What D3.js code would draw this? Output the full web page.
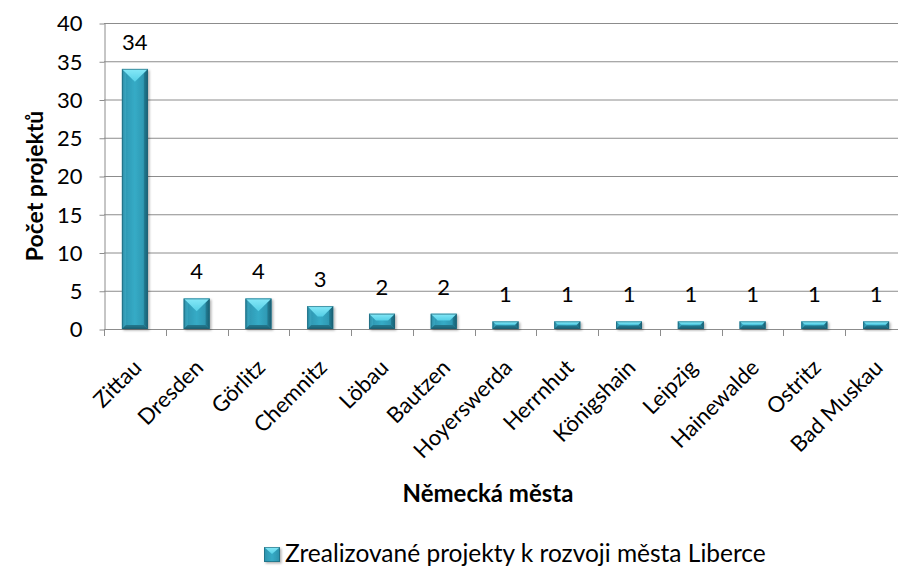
<!DOCTYPE html>
<html>
<head>
<meta charset="utf-8">
<script src="https://cdn.jsdelivr.net/npm/d3@7"></script>
<style>
  html, body { margin: 0; padding: 0; background: #fff; }
  svg { display: block; font-family: Lato, "Open Sans", sans-serif; }
</style>
</head>
<body>
<svg id="chart" width="898" height="566"></svg>
<script>
// Cities and number of projects
const cities = ["Zittau", "Dresden", "Görlitz", "Chemnitz", "Löbau", "Bautzen", "Hoyerswerda",
                "Herrnhut", "Königshain", "Leipzig", "Hainewalde", "Ostritz", "Bad Muskau"];
const projects = [34, 4, 4, 3, 2, 2, 1, 1, 1, 1, 1, 1, 1];
const yTicks = [0, 5, 10, 15, 20, 25, 30, 35, 40];
const seriesName = "Zrealizované projekty k rozvoji města Liberce";
const xTitle = "Německá města";
const yTitle = "Počet projektů";

const svg = d3.select("#chart");
const plot = { left: 104, right: 907, top: 23, bottom: 329 };

const x = d3.scaleBand().domain(cities).range([plot.left, plot.right]).paddingInner(0.58).paddingOuter(0.29);
const y = d3.scaleLinear().domain([0, 40]).range([plot.bottom, plot.top]);
const step = x.step();

// gradients for the bevelled bar faces
const defs = svg.append("defs");
function grad(id, vertical, stops) {
  const g = defs.append("linearGradient").attr("id", id)
    .attr("x1", 0).attr("y1", 0).attr("x2", vertical ? 0 : 1).attr("y2", vertical ? 1 : 0);
  stops.forEach(([o, c]) => g.append("stop").attr("offset", o).attr("stop-color", c));
}
grad("face", false, [[0, "#2b92ad"], [0.5, "#36abc6"], [1, "#2b90aa"]]);
grad("topFacet", true, [[0, "#86e9f8"], [1, "#55cfe6"]]);
grad("leftFacet", false, [[0, "#2a8ba4"], [1, "#3aa7c1"]]);
grad("rightFacet", false, [[0, "#237c93"], [1, "#1a6276"]]);
grad("bottomFacet", true, [[0, "#23788e"], [1, "#1c6073"]]);
const shadow = defs.append("filter").attr("id", "shadow").attr("x", "-20%").attr("y", "-20%").attr("width", "150%").attr("height", "150%");
shadow.append("feDropShadow").attr("dx", 1.5).attr("dy", 1.5).attr("stdDeviation", 1.2).attr("flood-color", "#000").attr("flood-opacity", 0.3);

// horizontal gridlines
svg.append("g").selectAll("line").data(yTicks).join("line")
  .attr("x1", plot.left).attr("x2", plot.right)
  .attr("y1", d => y(d) + 0.5).attr("y2", d => y(d) + 0.5)
  .attr("stroke", "#8c8c8c").attr("stroke-width", 1);

// y axis
const yAxis = svg.append("g").attr("transform", `translate(${plot.left + 0.5},0)`)
  .call(d3.axisLeft(y).tickValues(yTicks).tickSize(5).tickPadding(17).tickSizeOuter(0));
yAxis.select(".domain").attr("stroke", "#8c8c8c");
yAxis.selectAll(".tick line").attr("stroke", "#8c8c8c").attr("transform", "translate(0,0.5)");
yAxis.selectAll(".tick text").attr("font-family", "Lato, sans-serif").attr("font-size", 22).attr("fill", "#000")
  .attr("dy", "0.36em");

// x axis: ticks at the category boundaries
const boundaries = d3.range(cities.length + 1).map(i => plot.left + i * step);
svg.append("line").attr("x1", plot.left).attr("x2", plot.right)
  .attr("y1", plot.bottom + 0.5).attr("y2", plot.bottom + 0.5).attr("stroke", "#8c8c8c");
svg.append("g").selectAll("line").data(boundaries).join("line")
  .attr("x1", d => Math.round(d) + 0.5).attr("x2", d => Math.round(d) + 0.5)
  .attr("y1", plot.bottom).attr("y2", plot.bottom + 7).attr("stroke", "#8c8c8c");

svg.append("g").selectAll("text").data(cities).join("text")
  .attr("transform", d => `translate(${x(d) + x.bandwidth() / 2 + 8},${plot.bottom + 40}) rotate(-45)`)
  .attr("text-anchor", "end")
  .attr("font-size", 22).attr("fill", "#000")
  .text(d => d);

// bars with bevelled facets
const data = cities.map((c, i) => ({ c, v: projects[i] }));
const bars = svg.append("g").selectAll("g").data(data).join("g")
  .attr("filter", "url(#shadow)");
bars.each(function (d) {
  const g = d3.select(this);
  const w = x.bandwidth();
  const x0 = x(d.c), x1 = x0 + w;
  const y0 = y(d.v), y1 = y(0);
  const h = y1 - y0;
  const b = Math.min(w / 2, h * 0.45);
  const s = Math.min(4, b);
  g.append("rect").attr("x", x0).attr("y", y0).attr("width", w).attr("height", h).attr("fill", "url(#face)");
  g.append("polygon").attr("points", [[x0, y0], [x0 + s, y0 + s], [x0 + s, y1 - s], [x0, y1]].join(" ")).attr("fill", "url(#leftFacet)");
  g.append("polygon").attr("points", [[x1, y0], [x1 - s, y0 + s], [x1 - s, y1 - s], [x1, y1]].join(" ")).attr("fill", "url(#rightFacet)");
  g.append("polygon").attr("points", [[x0, y1], [x0 + s, y1 - s], [x1 - s, y1 - s], [x1, y1]].join(" ")).attr("fill", "url(#bottomFacet)");
  g.append("polygon").attr("points", [[x0, y0], [x1, y0], [x1 - b, y0 + b], [x0 + b, y0 + b]].join(" "))
    .attr("fill", "url(#topFacet)");
  g.append("rect").attr("x", x0 + 0.5).attr("y", y0 + 0.5).attr("width", w - 1).attr("height", h - 1)
    .attr("fill", "none").attr("stroke", "#1b5f72").attr("stroke-width", 1).attr("stroke-opacity", 0.6);
});

// value labels
svg.append("g").selectAll("text").data(data).join("text")
  .attr("x", d => x(d.c) + x.bandwidth() / 2).attr("y", d => y(d.v) - 19)
  .attr("text-anchor", "middle").attr("font-size", 22).attr("fill", "#000")
  .text(d => d.v);

// axis titles
svg.append("text").attr("transform", "translate(43,186) rotate(-90)")
  .attr("text-anchor", "middle").attr("font-size", 23).attr("font-weight", "bold").text(yTitle);
svg.append("text").attr("x", 488).attr("y", 502)
  .attr("text-anchor", "middle").attr("font-size", 24).attr("font-weight", "bold").text(xTitle);

// legend
const lg = svg.append("g").attr("transform", "translate(264,547)");
const sw = lg.append("g").attr("filter", "url(#shadow)");
sw.append("rect").attr("width", 16).attr("height", 15).attr("fill", "url(#face)");
sw.append("polygon").attr("points", "0,0 16,0 8,7").attr("fill", "url(#topFacet)");
sw.append("rect").attr("x", 0.5).attr("y", 0.5).attr("width", 15).attr("height", 14).attr("fill", "none").attr("stroke", "#1b5f72").attr("stroke-opacity", 0.6);
lg.append("text").attr("x", 21).attr("y", 15).attr("font-size", 24.5).attr("fill", "#000").text(seriesName);
</script>
</body>
</html>
